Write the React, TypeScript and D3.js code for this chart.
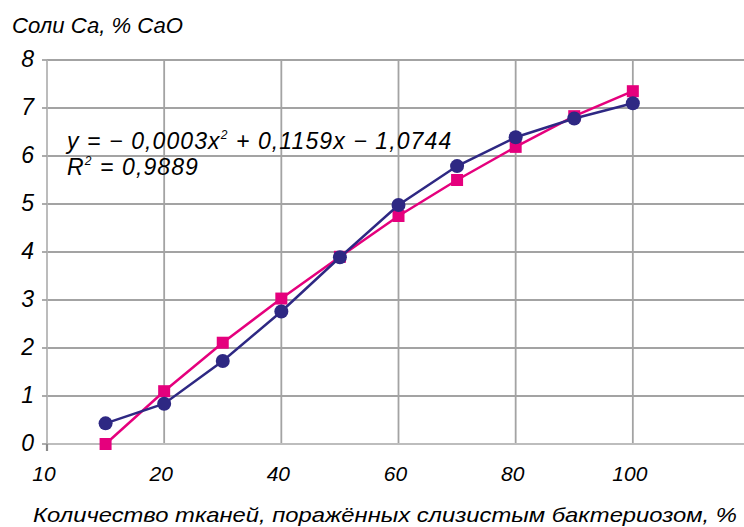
import React from "react";
import * as d3 from "d3";

const xValues = [10, 20, 30, 40, 50, 60, 70, 80, 90, 100];
const seriesBlue = [0.43, 0.84, 1.73, 2.76, 3.89, 4.98, 5.79, 6.39, 6.78, 7.1];
const seriesPink = [0.0, 1.1, 2.11, 3.03, 3.9, 4.75, 5.5, 6.19, 6.83, 7.35];
const xTickValues = [0, 20, 40, 60, 80, 100];
const xTickLabels = ["10", "20", "40", "60", "80", "100"];
const yTickValues = [0, 1, 2, 3, 4, 5, 6, 7, 8];
const xGridValues = [20, 40, 60, 80, 100, 120];

const W = 744;
const H = 527;
const FONT = "'Liberation Sans', Arial, sans-serif";

export default function App() {
  const x = d3.scaleLinear().domain([0, 120]).range([47, 750]);
  const y = d3.scaleLinear().domain([0, 8]).range([444, 60]);
  const line = d3
    .line<number>()
    .x((_, i) => x(xValues[i]))
    .y((d) => y(d));
  const grid = "#a3a3a3";
  const blue = "#2e2883";
  const pink = "#e5007d";

  return (
    <svg
      width={W}
      height={H}
      style={{ position: "absolute", left: 0, top: 0, background: "#fff" }}
      fontFamily={FONT}
      fontStyle="italic"
    >
      <rect x={0} y={0} width={W} height={H} fill="#fff" />
      {yTickValues
        .filter((v) => v > 0)
        .map((v) => (
          <line key={"h" + v} x1={x(0)} x2={x(120)} y1={y(v)} y2={y(v)} stroke={grid} strokeWidth={1.8} />
        ))}
      {xGridValues.map((v) => (
        <line key={"v" + v} x1={x(v)} x2={x(v)} y1={y(8)} y2={y(0)} stroke={grid} strokeWidth={1.8} />
      ))}
      <line x1={x(0)} x2={x(120)} y1={y(0)} y2={y(0)} stroke="#bdbdbd" strokeWidth={1.8} />
      <line x1={x(0)} x2={x(0)} y1={y(8)} y2={y(0)} stroke="#b5b5b5" strokeWidth={1.8} />
      {yTickValues.map((v) => (
        <line key={"t" + v} x1={x(0) - 5} x2={x(0)} y1={y(v)} y2={y(v)} stroke={grid} strokeWidth={1.8} />
      ))}
      <line x1={x(0)} x2={x(0)} y1={y(0)} y2={y(0) + 7} stroke="#8a8a8a" strokeWidth={2.2} />
      {yTickValues.map((v) => (
        <text key={"yl" + v} x={34} y={y(v) + 7} textAnchor="end" fontSize={23} fill="#000">
          {v}
        </text>
      ))}
      {xTickValues.map((v, i) => (
        <text key={"xl" + v} x={x(v) - 3} y={481} textAnchor="middle" fontSize={21} fill="#000">
          {xTickLabels[i]}
        </text>
      ))}
      <path d={line(seriesPink) || ""} fill="none" stroke={pink} strokeWidth={2.5} />
      {seriesPink.map((v, i) => (
        <rect key={"p" + i} x={x(xValues[i]) - 6} y={y(v) - 6} width={12} height={12} fill={pink} />
      ))}
      <path d={line(seriesBlue) || ""} fill="none" stroke={blue} strokeWidth={2.5} />
      {seriesBlue.map((v, i) => (
        <circle key={"b" + i} cx={x(xValues[i])} cy={y(v)} r={7} fill={blue} />
      ))}
      <text x={67} y={149} fontSize={23} fill="#000" letterSpacing={1.1}>
        <tspan>y = − 0,0003x</tspan>
        <tspan fontSize={12} dy={-10}>2</tspan>
        <tspan dy={10}> + 0,1159x − 1,0744</tspan>
      </text>
      <text x={67} y={175} fontSize={23} fill="#000" letterSpacing={1.1}>
        <tspan>R</tspan>
        <tspan fontSize={12} dy={-10}>2</tspan>
        <tspan dy={10}> = 0,9889</tspan>
      </text>
      <text x={12} y={33} fontSize={22} fill="#000" textLength={171} lengthAdjust="spacingAndGlyphs">
        Соли Са, % СаО
      </text>
      <text x={33} y={522} fontSize={21} fill="#000" textLength={704} lengthAdjust="spacingAndGlyphs">
        Количество тканей, поражённых слизистым бактериозом, %
      </text>
    </svg>
  );
}
